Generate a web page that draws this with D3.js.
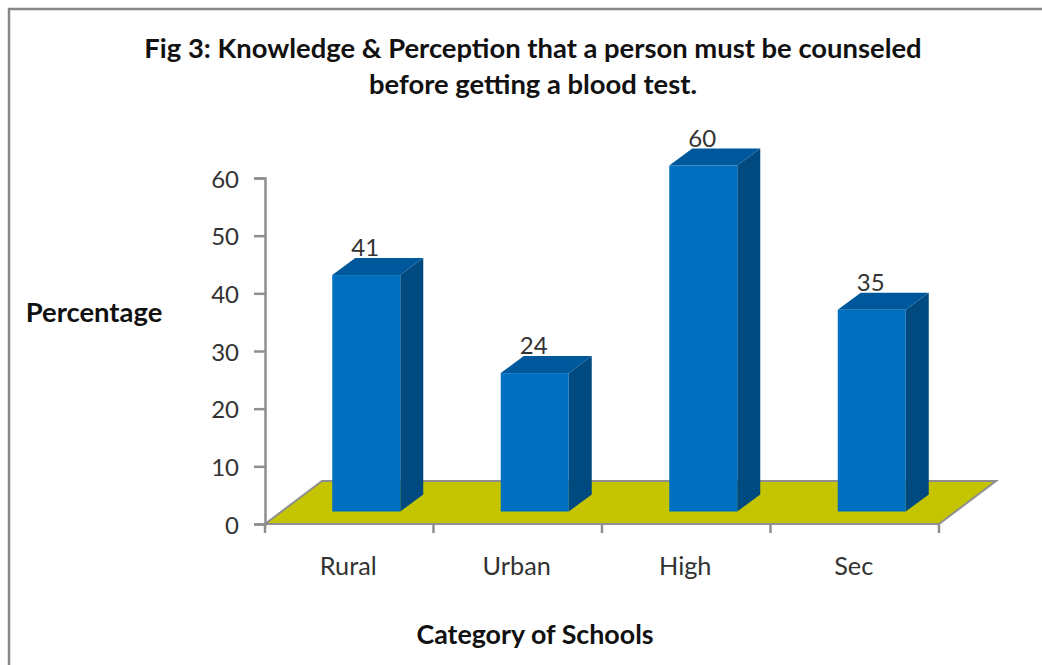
<!DOCTYPE html>
<html><head><meta charset="utf-8">
<script src="https://cdn.jsdelivr.net/npm/d3@7"></script>
<style>html,body{margin:0;padding:0;background:#fff}svg{display:block}text{font-family:Lato,"Noto Sans",sans-serif}</style>
</head><body><div id="c"></div>
<script>
const categories = ["Rural","Urban","High","Sec"];
const values = [41,24,60,35];
const yTicks = [0,10,20,30,40,50,60];
const titleLines = ["Fig 3: Knowledge & Perception that a person must be counseled","before getting a blood test."];
const yAxisTitle = "Percentage";
const xAxisTitle = "Category of Schools";

const W=1042,H=665;
const svg=d3.select("#c").append("svg").attr("width",W).attr("height",H);
const x=d3.scaleBand().domain(categories).range([265,939]);
const y=d3.scaleLinear().domain([0,60]).range([524,178]);
const axisCol="#8f8f8f", txt="#333333", dark="#111111";

svg.append("path").attr("d",`M9,${H} V9 H${W}`).attr("fill","none").attr("stroke","#868686").attr("stroke-width",2.5);

// titles
svg.append("g").selectAll("text").data(titleLines).join("text")
 .attr("x",533).attr("y",(d,i)=>58+i*36).attr("text-anchor","middle")
 .attr("font-size",27.4).attr("font-weight",700).attr("fill",dark).text(d=>d);
svg.append("text").attr("x",94).attr("y",322).attr("text-anchor","middle").attr("font-size",27.4).attr("font-weight",700).attr("fill",dark).text(yAxisTitle);
svg.append("text").attr("x",535).attr("y",644).attr("text-anchor","middle").attr("font-size",26.8).attr("font-weight",700).attr("fill",dark).text(xAxisTitle);

// floor
const fdx=57,fdy=-43;
svg.append("path").attr("d",`M${x.range()[0]},${y(0)} l${fdx},${fdy} H${x.range()[1]+fdx} L${x.range()[1]},${y(0)} Z`)
 .attr("fill","#c4c400").attr("stroke",axisCol).attr("stroke-width",2);

// axes
const yAxis=d3.axisLeft(y).tickValues(yTicks).tickSize(11).tickPadding(15);
const gy=svg.append("g").attr("transform","translate(265,0)").call(yAxis);
gy.selectAll("path,line").attr("stroke",axisCol).attr("stroke-width",2.5);
gy.selectAll("text").attr("font-size",24).attr("fill",txt).attr("font-family","Lato").attr("dy","0.38em");

const edges=categories.map(c=>x(c)).concat([x.range()[1]]);
svg.append("g").selectAll("line").data(edges).join("line")
 .attr("x1",d=>d).attr("x2",d=>d).attr("y1",y(0)).attr("y2",y(0)+9)
 .attr("stroke",axisCol).attr("stroke-width",2.5);
svg.append("g").selectAll("text").data(categories).join("text")
 .attr("x",d=>x(d)+x.bandwidth()/2-1).attr("y",575).attr("text-anchor","middle")
 .attr("font-size",25.3).attr("fill",txt).text(d=>d);

// bars
const barW=68, ox=17, oy=-12.5, dx=23, dy=-17;
const bars=svg.append("g").selectAll("g").data(categories.map((c,i)=>({c,v:values[i]}))).join("g")
 .attr("transform",d=>`translate(${x(d.c)+x.bandwidth()/2-barW/2+ox},${oy})`);
bars.append("path").attr("d",d=>`M${barW},${y(d.v)} l${dx},${dy} V${y(0)+dy} L${barW},${y(0)} Z`).attr("fill","#004a80");
bars.append("path").attr("d",d=>`M0,${y(d.v)} l${dx},${dy} H${barW+dx} L${barW},${y(d.v)} Z`).attr("fill","#00589c");
bars.append("rect").attr("x",0).attr("width",barW).attr("y",d=>y(d.v)).attr("height",d=>y(0)-y(d.v)).attr("fill","#006fc0");
bars.append("text").attr("x",barW/2-1).attr("y",d=>y(d.v)-19).attr("text-anchor","middle")
 .attr("font-size",24).attr("fill",txt).text(d=>d.v);
</script></body></html>
